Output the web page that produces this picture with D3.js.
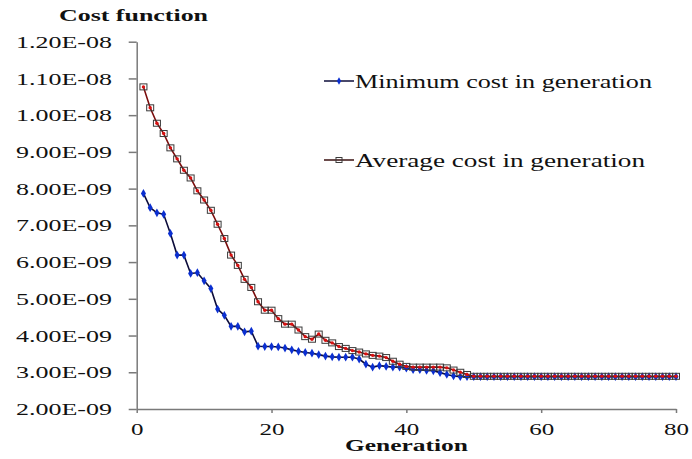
<!DOCTYPE html>
<html><head><meta charset="utf-8">
<script src="https://cdn.jsdelivr.net/npm/d3@7"></script>
<style>
html,body{margin:0;padding:0;background:#fff;}
svg{display:block;}
svg text{font-family:"Liberation Serif","DejaVu Serif","Noto Serif",serif !important;fill:#111;}
</style></head>
<body>
<svg id="chart" width="692" height="459"></svg>
<script>
// ---- data (values in units of 1E-09) ----
const generations = [1,2,3,4,5,6,7,8,9,10,11,12,13,14,15,16,17,18,19,20,
  21,22,23,24,25,26,27,28,29,30,31,32,33,34,35,36,37,38,39,40,
  41,42,43,44,45,46,47,48,49,50,51,52,53,54,55,56,57,58,59,60,
  61,62,63,64,65,66,67,68,69,70,71,72,73,74,75,76,77,78,79,80];
const minCost = [7.87,7.48,7.34,7.30,6.78,6.19,6.19,5.69,5.71,5.49,
  5.28,4.72,4.55,4.25,4.25,4.10,4.12,3.71,3.70,3.70,
  3.69,3.66,3.61,3.57,3.54,3.52,3.48,3.44,3.42,3.41,
  3.41,3.41,3.36,3.22,3.14,3.18,3.16,3.14,3.14,3.11,
  3.07,3.07,3.05,3.04,2.99,2.94,2.90,2.88,2.88,2.88,
  2.88,2.88,2.88,2.88,2.88,2.88,2.88,2.88,2.88,2.88,
  2.88,2.88,2.88,2.88,2.88,2.88,2.88,2.88,2.88,2.88,
  2.88,2.88,2.88,2.88,2.88,2.88,2.88,2.88,2.88,2.88];
const avgCost = [10.77,10.20,9.78,9.50,9.11,8.81,8.50,8.29,7.94,7.69,
  7.41,7.03,6.64,6.19,5.91,5.53,5.31,4.92,4.69,4.69,
  4.46,4.31,4.31,4.15,3.97,3.90,4.04,3.87,3.80,3.70,
  3.65,3.59,3.55,3.50,3.46,3.44,3.40,3.30,3.22,3.16,
  3.14,3.14,3.14,3.14,3.14,3.12,3.06,3.00,2.94,2.89,
  2.89,2.89,2.89,2.89,2.89,2.89,2.89,2.89,2.89,2.89,
  2.89,2.89,2.89,2.89,2.89,2.89,2.89,2.89,2.89,2.89,
  2.89,2.89,2.89,2.89,2.89,2.89,2.89,2.89,2.89,2.89];
const yTickValues = [2,3,4,5,6,7,8,9,10,11,12];
const yTickLabels = ["2.00E-09","3.00E-09","4.00E-09","5.00E-09","6.00E-09","7.00E-09",
  "8.00E-09","9.00E-09","1.00E-08","1.10E-08","1.20E-08"];
const xTickValues = [0,20,40,60,80];
const seriesNames = ["Minimum cost in generation","Average cost in generation"];
const yTitle = "Cost function";
const xTitle = "Generation";

// ---- layout ----
const FONT = "'Liberation Serif','DejaVu Serif','Noto Serif',serif";
const svg = d3.select("#chart");
const x = d3.scaleLinear().domain([0,80]).range([136.7,676]);
const y = d3.scaleLinear().domain([2,12]).range([409,41.7]);
const axisColor = "#7a7a7a";

// y axis
const gy = svg.append("g").attr("transform",`translate(${x(0)},0)`)
  .call(d3.axisLeft(y).tickValues(yTickValues).tickSize(8).tickSizeOuter(0)
        .tickPadding(16.7).tickFormat((d,i)=>yTickLabels[i]));
gy.attr("font-family",FONT);
gy.select(".domain").attr("stroke",axisColor).attr("stroke-width",1.5);
gy.selectAll(".tick line").attr("stroke",axisColor).attr("stroke-width",1.5);
gy.selectAll(".tick text").attr("font-size",17).attr("fill","#111")
  .style("font-family",FONT)
  .attr("textLength",96).attr("lengthAdjust","spacingAndGlyphs").attr("dy","0.33em");

// x axis
const gx = svg.append("g").attr("transform",`translate(0,${y(2)})`)
  .call(d3.axisBottom(x).tickValues(xTickValues).tickSize(4).tickSizeOuter(0));
gx.attr("font-family",FONT);
gx.select(".domain").attr("stroke",axisColor).attr("stroke-width",1.5);
gx.selectAll(".tick line").attr("stroke",axisColor).attr("stroke-width",1.5);
gx.selectAll(".tick text").attr("font-size",16).attr("fill","#111")
  .style("font-family",FONT)
  .attr("y",26).attr("dy",0)
  .attr("textLength",d=>String(d).length*12.5).attr("lengthAdjust","spacingAndGlyphs");

// titles
svg.append("text").attr("x",59).attr("y",20.7).attr("font-size",17).attr("font-weight","bold")
  .style("font-family",FONT)
  .attr("textLength",149).attr("lengthAdjust","spacingAndGlyphs").text(yTitle);
svg.append("text").attr("x",345).attr("y",451).attr("font-size",16).attr("font-weight","bold")
  .style("font-family",FONT)
  .attr("textLength",123).attr("lengthAdjust","spacingAndGlyphs").text(xTitle);

// line generator
const line = d3.line().x((d,i)=>x(generations[i])).y(d=>y(d));

// minimum series (drawn first)
svg.append("path").datum(minCost).attr("d",line).attr("fill","none")
  .attr("stroke","#0c0c3a").attr("stroke-width",1.6);
const diamond = d3.symbol().type(d3.symbolDiamond).size(22);
svg.append("g").selectAll("path").data(minCost).join("path")
  .attr("d",diamond)
  .attr("transform",(d,i)=>`translate(${x(generations[i])},${y(d)})`)
  .attr("fill","#0b2fd0");

// average series (on top)
svg.append("path").datum(avgCost).attr("d",line).attr("fill","none")
  .attr("stroke","#7a0c0c").attr("stroke-width",1.6);
svg.append("g").selectAll("rect").data(avgCost).join("rect")
  .attr("x",(d,i)=>x(generations[i])-3.5).attr("y",d=>y(d)-3)
  .attr("width",7).attr("height",6).attr("fill","none")
  .attr("stroke","#3a3a3a").attr("stroke-width",1);
svg.append("g").selectAll("circle").data(avgCost).join("circle")
  .attr("cx",(d,i)=>x(generations[i])).attr("cy",d=>y(d)).attr("r",1.7)
  .attr("fill","#d81010");

// legend
const legY = [81,160];
const legW = [297,290];
const lg = svg.append("g");
seriesNames.forEach((name,k)=>{
  lg.append("line").attr("x1",324).attr("x2",354).attr("y1",legY[k]).attr("y2",legY[k])
    .attr("stroke",k===0?"#0c0c3a":"#3a1010").attr("stroke-width",1.5);
  if(k===0){
    lg.append("path").attr("d",d3.symbol().type(d3.symbolDiamond).size(16))
      .attr("transform",`translate(339,${legY[k]})`).attr("fill","#0b2fd0");
  } else {
    lg.append("rect").attr("x",336).attr("y",legY[k]-2.5).attr("width",6).attr("height",5)
      .attr("fill","none").attr("stroke","#3a3a3a");
  }
  lg.append("text").attr("x",355).attr("y",legY[k]+6.5).attr("font-size",19)
    .style("font-family",FONT)
    .attr("textLength",legW[k]).attr("lengthAdjust","spacingAndGlyphs").text(name);
});
</script>
</body></html>
